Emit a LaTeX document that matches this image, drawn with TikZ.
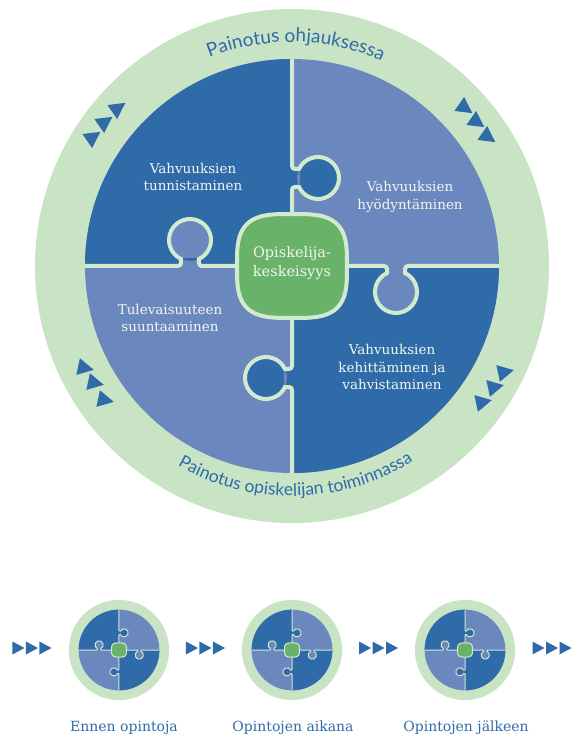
\documentclass[tikz,border=0pt]{standalone}
\usepackage{fontspec}
\setmainfont{DejaVu Serif}
\newfontfamily\arcfont{Lato}
\usetikzlibrary{decorations.text}
\definecolor{ringgreen}{RGB}{201,228,197}
\definecolor{darkblue}{RGB}{46,107,168}
\definecolor{lightblue}{RGB}{106,135,190}
\definecolor{midgreen}{RGB}{104,178,106}
\definecolor{lineg}{RGB}{210,234,205}
\definecolor{labelw}{RGB}{242,246,238}
% #1 divider width, #2 size of the middle piece
\newcommand{\puzzlering}[2]{
\fill[ringgreen] (0,0) circle (257);
\fill[lightblue] (0,0) circle (207);
\fill[darkblue] (0,0) -- (0,207) arc[start angle=90,end angle=180,radius=207] -- cycle;
\fill[darkblue] (0,0) -- (0,-207) arc[start angle=-90,end angle=0,radius=207] -- cycle;
\fill[darkblue] (-1,79) rectangle (8,97) (26,88) circle (21);
\fill[lightblue] (-111,-1) rectangle (-93,8) (-102,26) circle (21);
\fill[lightblue] (95,1) rectangle (113,-8) (104,-26) circle (21);
\fill[darkblue] (1,-103) rectangle (-8,-121) (-26,-112) circle (21);
\draw[lineg,line width=#1] (0,207) -- (0,100) arc[start angle=180,end angle=270,radius=3]
  -- (7.03,97) arc[start angle=154.62,end angle=-154.62,radius=21]
  -- (3,79) arc[start angle=90,end angle=180,radius=3] -- (0,0);
\draw[lineg,line width=#1] (-207,0) -- (-114,0) arc[start angle=270,end angle=360,radius=3]
  -- (-111,7.03) arc[start angle=244.62,end angle=-64.62,radius=21]
  -- (-93,3) arc[start angle=180,end angle=270,radius=3] -- (0,0);
\draw[lineg,line width=#1] (0,0) -- (92,0) arc[start angle=90,end angle=0,radius=3]
  -- (95,-7.03) arc[start angle=115.38,end angle=424.62,radius=21]
  -- (113,-3) arc[start angle=180,end angle=90,radius=3] -- (207,0);
\draw[lineg,line width=#1] (0,0) -- (0,-100) arc[start angle=0,end angle=-90,radius=3]
  -- (-7.03,-103) arc[start angle=25.38,end angle=334.62,radius=21]
  -- (-3,-121) arc[start angle=90,end angle=0,radius=3] -- (0,-207);
\draw[lineg,line width=#1,fill=midgreen] plot[domain=1:361,samples=121]
  ({#2*55*sign(cos(\x))*abs(cos(\x))^0.6},{#2*52*sign(sin(\x))*abs(sin(\x))^0.6}) -- cycle;
}
\newcommand{\ringtri}[3]{\fill[darkblue,shift={(#1,#2)},rotate=#3] (9,0) -- (-7,8.5) -- (-7,-8.5) -- cycle;}
\newcommand{\smalltri}[1]{
\foreach \d in {-13.5,0,13.5}
  \fill[darkblue,shift={(#1+\d,-382)}] (6,0) -- (-6,6.5) -- (-6,-6.5) -- cycle;
}
\begin{document}
\begin{tikzpicture}[x=1pt,y=1pt,
  lbl/.style={text=labelw,align=center,font=\fontsize{13.5}{17.5}\selectfont},
  steplbl/.style={text=darkblue,font=\fontsize{14}{16}\selectfont}]
\useasboundingbox (-292,-478) rectangle (279,266);
\puzzlering{4}{1}

\node[lbl] (tl) at (-99,89) {Vahvuuksien\\tunnistaminen};
\node[lbl] (tr) at (118,69) {Vahvuuksien\\hyödyntäminen};
\node[lbl] (bl) at (-122,-52) {Tulevaisuuteen\\suuntaaminen};
\node[lbl] (br) at (100,-101) {Vahvuuksien\\kehittäminen ja\\vahvistaminen};
\node[lbl,font=\fontsize{14.5}{19}\selectfont] (mid) at (0,3) {Opiskelija-\\keskeisyys};

\path[decorate,decoration={text along path,text align=center,text color=darkblue,
  text={|\arcfont\fontsize{19}{20}\selectfont|Painotus ohjauksessa}}]
  (169:224) arc[start angle=169,end angle=9,radius=224];
\path[decorate,decoration={text along path,text align=center,text color=darkblue,
  text={|\arcfont\fontsize{17.5}{20}\selectfont|Painotus opiskelijan toiminnassa}}]
  (191:230) arc[start angle=191,end angle=351,radius=230];

\ringtri{-174}{158}{35} \ringtri{-187}{144}{35} \ringtri{-199}{129}{35}
\ringtri{173}{158}{-35} \ringtri{185}{144}{-35} \ringtri{196}{129}{-35}
\ringtri{-207}{-102}{-12} \ringtri{-197}{-117}{-12} \ringtri{-187}{-134}{-12}
\ringtri{213}{-106}{12} \ringtri{203}{-121}{12} \ringtri{191}{-136}{12}

% the three small ones
\foreach \cx in {-173,0,173}{
  \begin{scope}[shift={(\cx,-384)},scale=0.195]
  \puzzlering{1}{0.7}
  \end{scope}
}
\smalltri{-260} \smalltri{-86.5} \smalltri{86.5} \smalltri{260}

\node[steplbl] (before) at (-168,-462) {Ennen opintoja};
\node[steplbl] (during) at (1,-462) {Opintojen aikana};
\node[steplbl] (after) at (174,-462) {Opintojen jälkeen};
\end{tikzpicture}
\end{document}
